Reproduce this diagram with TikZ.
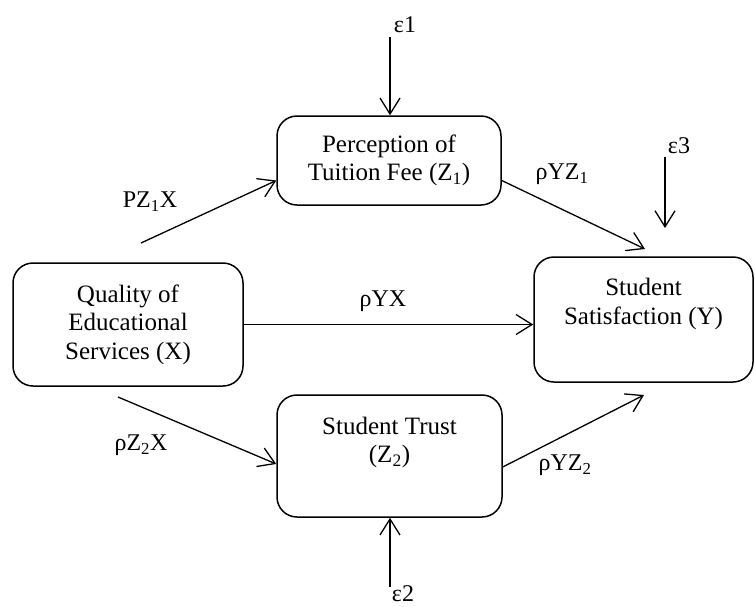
\documentclass[tikz,border=0pt]{standalone}
\usepackage{fontspec}
\setmainfont{Liberation Serif}
\usetikzlibrary{arrows.meta,calc}

\begin{document}
\begin{tikzpicture}[
    x=1pt, y=-1pt,
    mybox/.style={
    draw=black,
    rounded corners=20pt,
    line width=1.5pt,
    align=center,
    inner sep=0pt,
    font=\fontsize{25}{28.5}\selectfont},
    mylabel/.style={inner sep=0pt, font=\fontsize{24}{28}\selectfont},
    myarrow/.style={-{Straight Barb[length=16pt,width=20pt]}, line width=1.3pt}
    ]
    \useasboundingbox (0,0) rectangle (755,606);

    \node[mybox, minimum width=224pt, minimum height=89pt] (fee) at (389,160.5)
        {Perception of\\Tuition Fee (Z\textsubscript{1})};
    \node[mybox, minimum width=230pt, minimum height=123pt] (quality) at (128,324.5)
        {Quality of\\Educational\\Services (X)};
    \node[mybox, minimum width=219pt, minimum height=125pt] (satis) at (643.5,319.5)
        {Student\\Satisfaction (Y)\\[8pt]\mbox{}};
    \node[mybox, minimum width=225pt, minimum height=122pt] (trust) at (389.5,456)
        {Student Trust\\(Z\textsubscript{2})\\[4pt]\mbox{}};

    \node[mylabel] (e1) at (405,25) {ε1};
    \node[mylabel] (e2) at (403,594) {ε2};
    \node[mylabel] (e3) at (679,146) {ε3};

    \coordinate (e1a) at (390,37);
    \coordinate (e2a) at (390,587);
    \coordinate (e3a) at (665,157);
    \coordinate (e3b) at (665,228);
    \coordinate (qa) at (141,243);
    \coordinate (qb) at (118,397);
    \coordinate (sa) at (645,249);
    \coordinate (sb) at (644,395);

    \draw[myarrow] (e1a) -- (e1a |- fee.north);
    \draw[myarrow] (e2a) -- (e2a |- trust.south);
    \draw[myarrow] (e3a) -- (e3b);

    \draw[myarrow] (qa) -- ($(fee.west)+(0,20)$);
    \draw[myarrow] ($(fee.east)+(0,20)$) -- (sa);
    \draw[myarrow] (quality.east) -- (quality.east -| satis.west);
    \draw[myarrow] (qb) -- ($(trust.west)+(0,8)$);
    \draw[myarrow] ($(trust.east)+(0,11)$) -- (sb);

    \node[mylabel] (pzx) at (150,202) {PZ\textsubscript{1}X};
    \node[mylabel] (ryz1) at (562,174) {ρYZ\textsubscript{1}};
    \node[mylabel] (ryx) at (383,301) {ρYX};
    \node[mylabel] (rzx) at (141,445) {ρZ\textsubscript{2}X};
    \node[mylabel] (ryz2) at (565,465) {ρYZ\textsubscript{2}};
\end{tikzpicture}
\end{document}
